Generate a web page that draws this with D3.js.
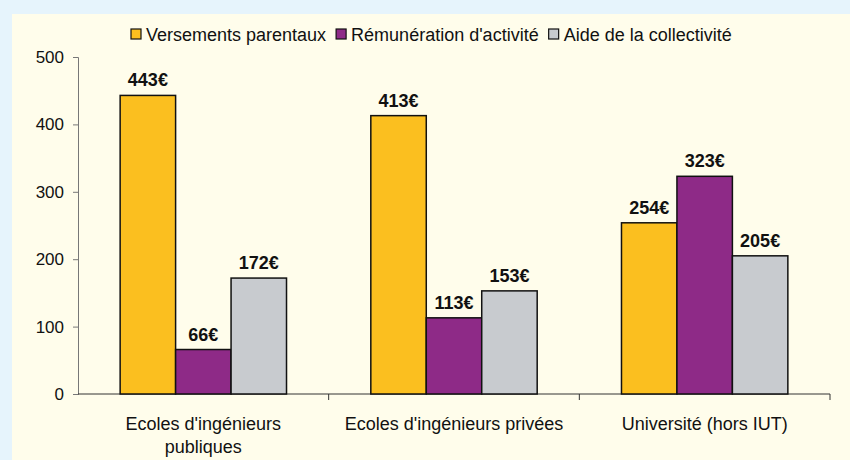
<!DOCTYPE html>
<html>
<head>
<meta charset="utf-8">
<script src="https://cdn.jsdelivr.net/npm/d3@7"></script>
<style>
  body { margin: 0; background: #e6f4fc; }
  #chart { position: absolute; left: 12px; top: 14px; width: 838px; height: 446px; background: #fffdeb; }
  text { font-family: "Liberation Sans", Arial, sans-serif; fill: #111; }
</style>
</head>
<body>
<div id="chart"></div>
<script>
// data
const categories = [["Ecoles d'ingénieurs", "publiques"], ["Ecoles d'ingénieurs privées"], ["Université (hors IUT)"]];
const seriesNames = ["Versements parentaux", "Rémunération d'activité", "Aide de la collectivité"];
const versements = [443, 413, 254];
const remuneration = [66, 113, 323];
const aide = [172, 153, 205];
const yTicks = [0, 100, 200, 300, 400, 500];
const colors = ["#fbbf1f", "#8e2a87", "#c8cbcf"];

const series = [versements, remuneration, aide];

const margin = { left: 66, top: 43, right: 20, bottom: 66 };
const W = 838, H = 446;
const width = W - margin.left - margin.right;
const height = H - margin.top - margin.bottom;

const svg = d3.select("#chart").append("svg").attr("width", W).attr("height", H);
const g = svg.append("g").attr("transform", `translate(${margin.left},${margin.top})`);

const x = d3.scaleBand().domain(d3.range(categories.length)).range([0, width]).paddingInner(0).paddingOuter(0);
const xs = d3.scaleBand().domain(d3.range(series.length)).range([0, x.bandwidth()]).paddingInner(0).paddingOuter(0.76);
const y = d3.scaleLinear().domain([0, 500]).range([height, 0]);

// y axis
const yAxis = g.append("g").call(d3.axisLeft(y).tickValues(yTicks).tickSize(5).tickPadding(9));
yAxis.selectAll("text").style("font-size", "17px").style("font-family", "Liberation Sans, Arial, sans-serif").attr("fill", "#111");
yAxis.selectAll("line, path").attr("stroke", "#777");

// x axis line with ticks at category boundaries
const xg = g.append("g").attr("transform", `translate(0,${height})`);
xg.append("line").attr("x1", 0).attr("x2", width).attr("stroke", "#333");
xg.selectAll(".tk").data(d3.range(1, categories.length + 1)).enter().append("line")
  .attr("x1", d => x.step() * d).attr("x2", d => x.step() * d)
  .attr("y1", 0).attr("y2", 6).attr("stroke", "#333");

categories.forEach((lines, i) => {
  const t = xg.append("text").attr("text-anchor", "middle")
    .attr("x", x(i) + x.bandwidth() / 2).attr("y", 36)
    .style("font-size", "18px");
  lines.forEach((l, j) => t.append("tspan").attr("x", x(i) + x.bandwidth() / 2).attr("dy", j ? 23 : 0).text(l));
});

// bars
series.forEach((vals, s) => {
  const grp = g.append("g");
  grp.selectAll("rect").data(vals).enter().append("rect")
    .attr("x", (d, i) => x(i) + xs(s))
    .attr("y", d => y(d))
    .attr("width", xs.bandwidth())
    .attr("height", d => height - y(d))
    .attr("fill", colors[s])
    .attr("stroke", "#111")
    .attr("stroke-width", 1.5);
  grp.selectAll("text").data(vals).enter().append("text")
    .attr("x", (d, i) => x(i) + xs(s) + xs.bandwidth() / 2)
    .attr("y", d => y(d) - 9)
    .attr("text-anchor", "middle")
    .style("font-size", "18px").style("font-weight", "bold")
    .text(d => d + "€");
});

// legend
const leg = svg.append("g").attr("transform", "translate(119,20)");
let lx = 0;
seriesNames.forEach((name, s) => {
  const item = leg.append("g").attr("transform", `translate(${lx},0)`);
  item.append("rect").attr("x", 0).attr("y", -5).attr("width", 10).attr("height", 10)
    .attr("fill", colors[s]).attr("stroke", "#111").attr("stroke-width", 1.2);
  const t = item.append("text").attr("x", 15).attr("y", 6.5).style("font-size", "18px").text(name);
  lx += 15 + t.node().getComputedTextLength() + 10;
});
</script>
</body>
</html>
